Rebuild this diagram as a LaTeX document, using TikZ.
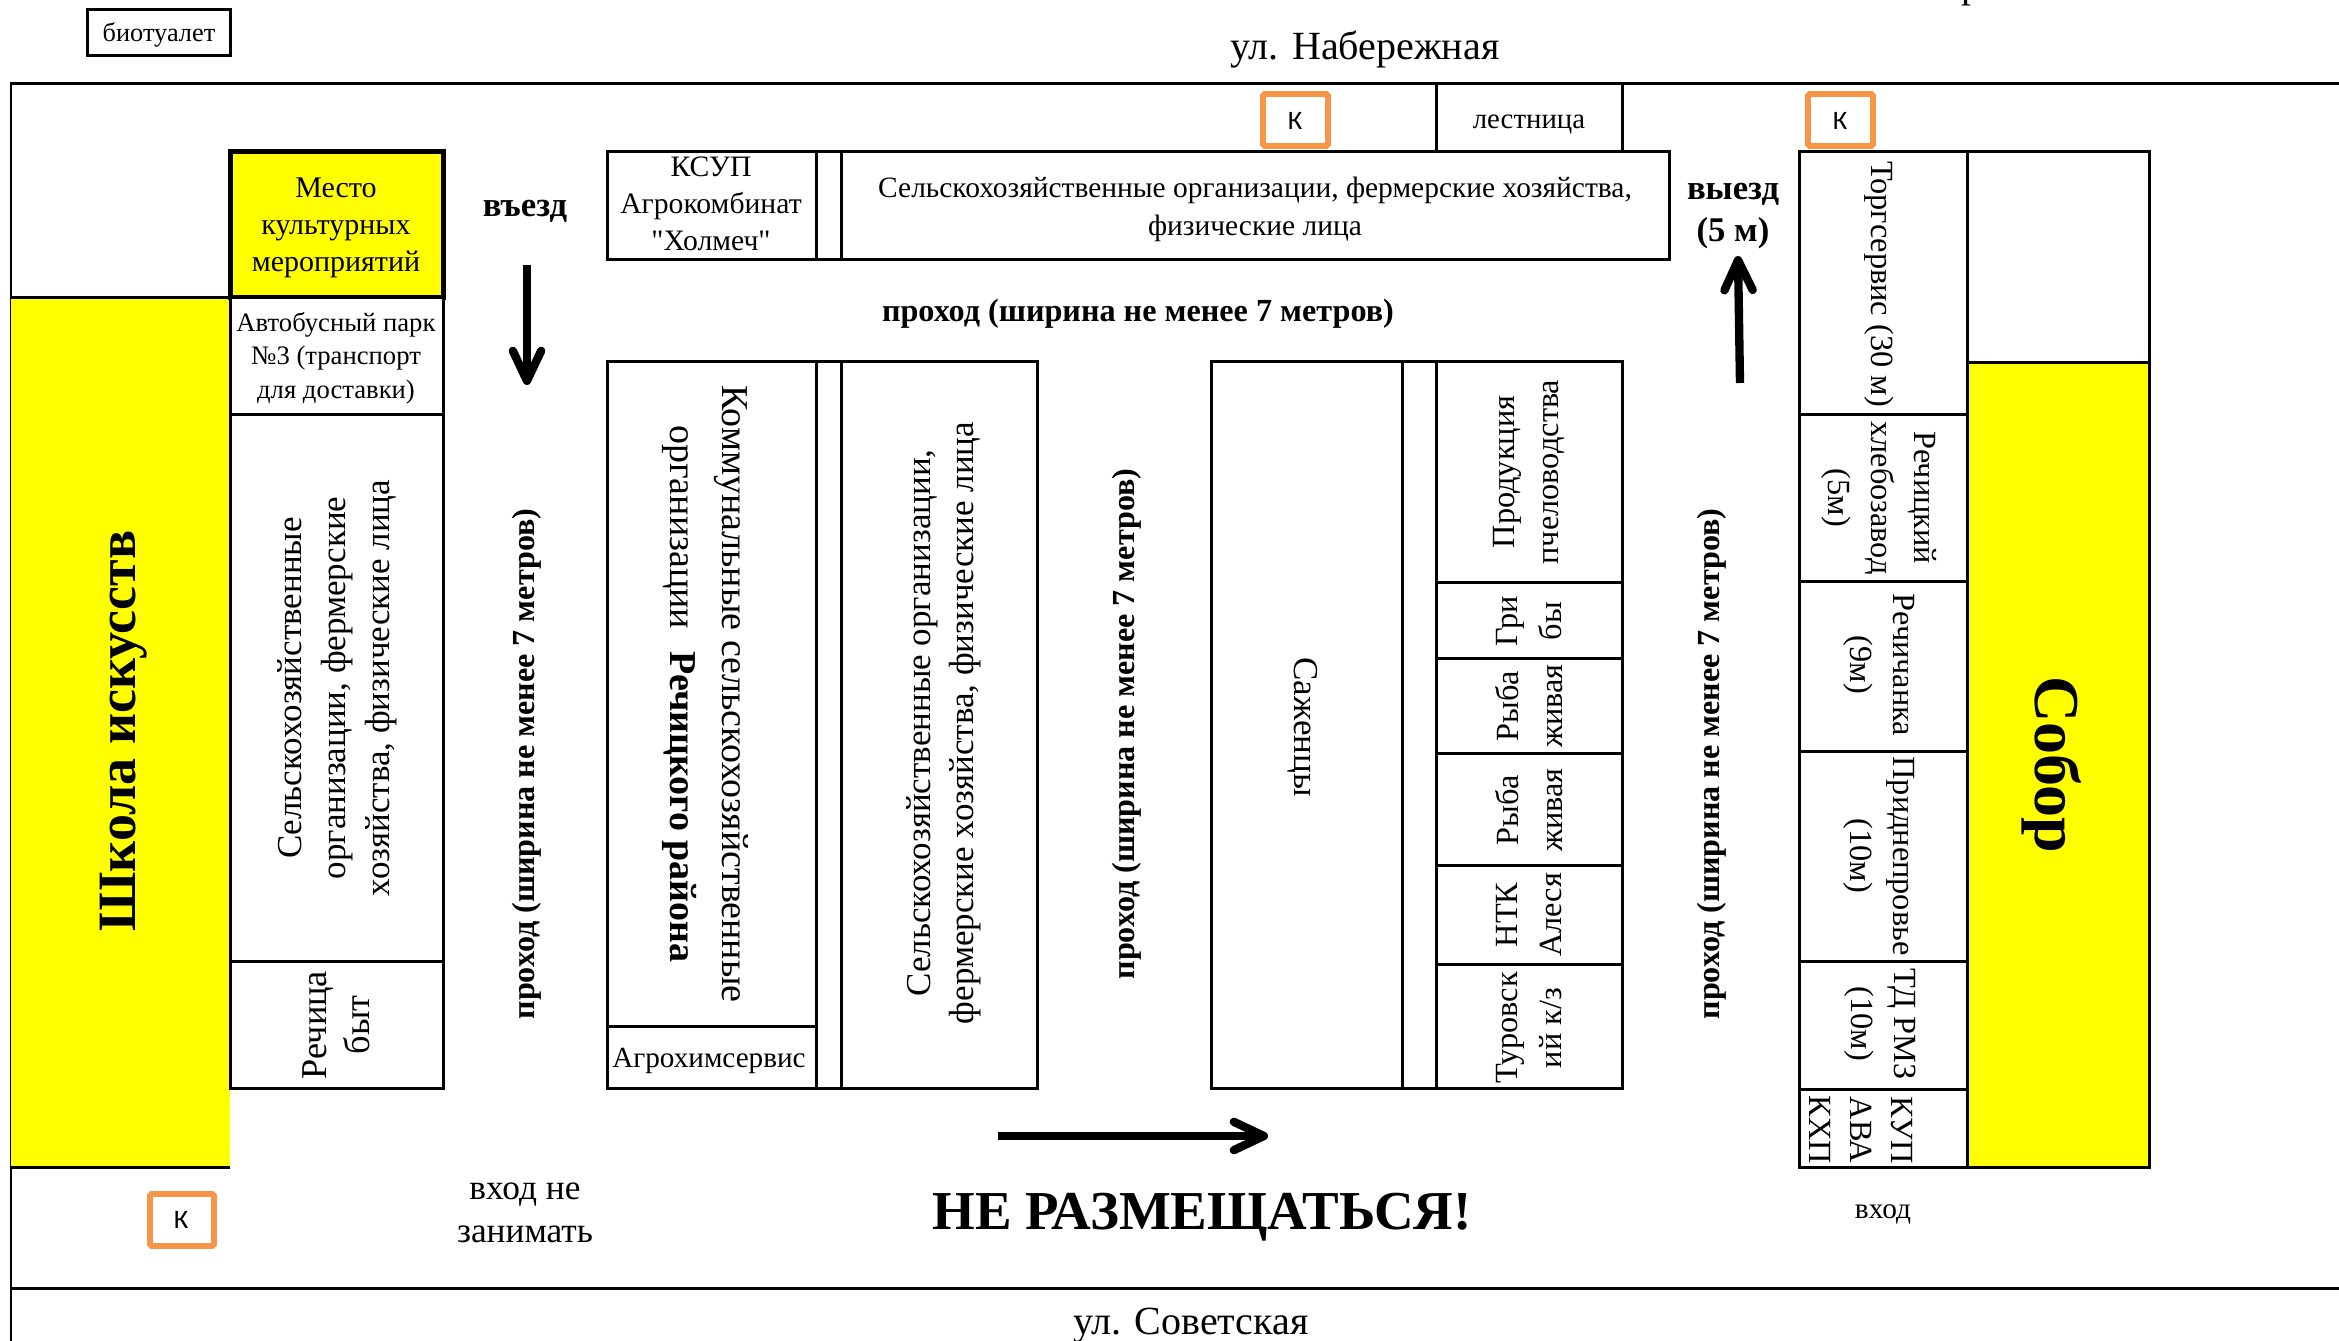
\documentclass[tikz,border=0pt]{standalone}
\usepackage{fontspec}
\setmainfont{Liberation Serif}
\newfontfamily\carl{Carlito}
\newfontfamily\plainq{Liberation Serif}
\usetikzlibrary{arrows.meta}
\newcommand{\fs}[2]{\fontsize{#1pt}{#2pt}\selectfont}
\definecolor{yel}{RGB}{255,255,0}
\definecolor{org}{RGB}{247,150,70}
\tikzset{
  x=0.3pt,y=-0.3pt,
  thinbox/.style={draw=black,line width=0.9pt,fill=white},
  yelbox/.style={draw=black,line width=0.9pt,fill=yel},
  rule/.style={draw=black,line width=0.9pt},
  txt/.style={inner sep=0pt,align=center,font=\fs{9}{11.1}},
  small/.style={inner sep=0pt,align=center,font=\fs{8}{10}},
  hb/.style={inner sep=0pt,align=center,font=\bfseries\fs{10.4}{12.6}},
  up/.style={rotate=90},
  dn/.style={rotate=-90},
  vt/.style={inner sep=0pt,align=center,font=\fs{9.7}{13}},
  vw/.style={inner sep=0pt,align=center,font=\fs{10.5}{13}},
  vb/.style={inner sep=0pt,align=center,font=\bfseries\fs{9.64}{13}},
  kbox/.style={draw=org,line width=1.7pt,fill=white,rounded corners=0.5pt},
  ktxt/.style={inner sep=0pt,font=\carl\fs{8}{9}},
  bigarrow/.style={draw=black,line width=2.5pt,-{Straight Barb[length=9pt,width=8.5pt,line width=2.5pt,round]}},
}
\begin{document}
\begin{tikzpicture}
\path[use as bounding box,fill=white] (0,0) rectangle (2339,1341);
% frame
\draw[rule] (2339,84) -- (11,84) -- (11,1341);
\draw[rule] (11,1288) -- (2339,1288);
% left block
\fill[yel] (11,298) rectangle (230,1167);
\draw[rule] (11,298) -- (230,298);
\draw[rule] (11,1167) -- (230,1167);
\draw[yelbox,line width=1.5pt] (230,152) rectangle (443,298);
\draw[thinbox] (230,298) rectangle (443,415);
\draw[thinbox] (230,415) rectangle (443,961);
\draw[thinbox] (230,961) rectangle (443,1088);
% top row
\draw[rule] (1436,84) -- (1436,152);
\draw[rule] (1622,84) -- (1622,152);
\draw[thinbox] (607,152) rectangle (816,260);
\draw[thinbox] (816,152) rectangle (841,260);
\draw[thinbox] (841,152) rectangle (1669,260);
% middle block
\draw[thinbox] (607,362) rectangle (816,1026);
\draw[thinbox] (607,1026) rectangle (816,1088);
\draw[thinbox] (816,362) rectangle (841,1088);
\draw[thinbox] (841,362) rectangle (1037,1088);
% saplings block
\draw[thinbox] (1211,362) rectangle (1402,1088);
\draw[thinbox] (1402,362) rectangle (1436,1088);
\draw[thinbox] (1436,362) rectangle (1622,582);
\draw[thinbox] (1436,582) rectangle (1622,658);
\draw[thinbox] (1436,658) rectangle (1622,753);
\draw[thinbox] (1436,753) rectangle (1622,865);
\draw[thinbox] (1436,865) rectangle (1622,964);
\draw[thinbox] (1436,964) rectangle (1622,1088);
% right block
\draw[thinbox] (1967,152) rectangle (2149,363);
\draw[yelbox] (1967,363) rectangle (2149,1167);
\draw[thinbox] (1799,152) rectangle (1967,415);
\draw[thinbox] (1799,415) rectangle (1967,581);
\draw[thinbox] (1799,581) rectangle (1967,751);
\draw[thinbox] (1799,751) rectangle (1967,961);
\draw[thinbox] (1799,961) rectangle (1967,1089);
\draw[thinbox] (1799,1089) rectangle (1967,1167);
% biotoilet
\draw[thinbox] (87,10) rectangle (230,56);
% orange boxes
\draw[kbox] (1263,94) rectangle (1328,146);
\draw[kbox] (1808,94) rectangle (1873,146);
\draw[kbox] (150,1194) rectangle (214,1246);
\node[ktxt] (k1) at (1295,121) {К};
\node[ktxt] (k2) at (1840,121) {К};
\node[ktxt] (k3) at (181,1220) {К};
% arrows
\coordinate (a1s) at (527,265); \coordinate (a1e) at (527,385);
\coordinate (a2s) at (1740,383); \coordinate (a2e) at (1738,256);
\coordinate (a3s) at (998,1136); \coordinate (a3e) at (1268,1136);
\draw[bigarrow] (a1s) -- (a1e);
\draw[bigarrow] (a2s) -- (a2e);
\draw[bigarrow] (a3s) -- (a3e);
% texts
\node[small,font=\fs{7.9}{10}] (bio) at (159,35) {биотуалет};
\node[inner sep=0pt,font=\fs{12}{13}] (nab) at (1365,50) {ул. Набережная};
\node[inner sep=0pt,font=\fs{12}{13},anchor=base] (frag) at (1971,-2) {р};
\node[inner sep=0pt,font=\fs{12}{13}] (sov) at (1191,1326) {ул. Советская};
\node[txt] (mesto) at (336,228) {Место\\культурных\\мероприятий};
\node[small] (avto) at (336,358) {Автобусный парк\\№3 (транспорт\\для доставки)};
\node[vw,up,font=\fs{10.5}{13.2}] (sel1) at (337,688) {Сельскохозяйственные\\организации, фермерские\\хозяйства, физические лица};
\node[vw,up,font=\fs{10.9}{13}] (byt) at (336,1025) {Речица\\быт};
\node[hb] (vezd) at (525,211) {въезд};
\node[hb] (vyezd) at (1733,216) {выезд\\(5 м)};
\node[vb,up] (pr1) at (527,764) {проход (ширина не менее 7 метров)};
\node[vb,up] (pr2) at (1127,724) {проход (ширина не менее 7 метров)};
\node[vb,up] (pr3) at (1712,764) {проход (ширина не менее 7 метров)};
\node[hb,font=\bfseries\fs{9.66}{12}] (pr4) at (1138,314) {проход (ширина не менее 7 метров)};
\node[txt,font=\fs{8.9}{11.1}] (ksup) at (711,204) {КСУП\\Агрокомбинат\\{\plainq"}Холмеч{\plainq"}};
\node[txt,font=\fs{8.84}{11.4}] (seltop) at (1255,209) {Сельскохозяйственные организации, фермерские хозяйства,\\физические лица};
\node[vw,dn,font=\fs{11.4}{15.6}] (komm) at (705,694) {Коммунальные сельскохозяйственные\\организации\hspace{6.7pt}\textbf{Речицкого района}};
\node[small,font=\fs{8.75}{10}] (agro) at (709,1061) {Агрохимсервис};
\node[vw,up] (sel2) at (944,723) {Сельскохозяйственные организации,\\фермерские хозяйства, физические лица};
\node[vw,dn] (saj) at (1303,727) {Саженцы};
\node[vt,up] (bee) at (1529,472) {Продукция\\пчеловодства};
\node[vt,up] (grib) at (1529,621) {Гри\\бы};
\node[vt,up] (ryb1) at (1529,706) {Рыба\\живая};
\node[vt,up] (ryb2) at (1529,810) {Рыба\\живая};
\node[vt,up] (ntk) at (1529,915) {НТК\\Алеся};
\node[vt,up] (tur) at (1529,1028) {Туровск\\ий к/з};
\node[vt,dn] (torg) at (1879,284) {Торгсервис (30 м)};
\node[vt,dn] (hleb) at (1879,498) {Речицкий\\хлебозавод\\(5м)};
\node[vt,dn] (rech) at (1879,665) {Речичанка\\(9м)};
\node[vt,dn] (prid) at (1879,856) {Приднепровье\\(10м)};
\node[vt,dn] (tdrmz) at (1880,1024) {ТД РМЗ\\(10м)};
\node[vt,dn,font=\fs{9.7}{12.2}] (kup) at (1861,1130) {КУП\\АВА\\КХП};
\node[inner sep=0pt,dn,font=\bfseries\fs{19.2}{20}] (sobor) at (2052,765) {Собор};
\node[inner sep=0pt,up,font=\bfseries\fs{16.2}{18}] (shk) at (124,731) {Школа искусств};
\node[small,font=\fs{8.8}{10}] (vhod) at (1883,1214) {вход};
\node[txt,font=\fs{10.6}{12.9}] (vh2) at (525,1213) {вход не\\занимать};
\node[inner sep=0pt,font=\bfseries\fs{16.46}{18}] (ne) at (1202,1217) {НЕ РАЗМЕЩАТЬСЯ!};
\node[small,font=\fs{8.64}{10}] (lest) at (1529,125) {лестница};
\end{tikzpicture}
\end{document}
